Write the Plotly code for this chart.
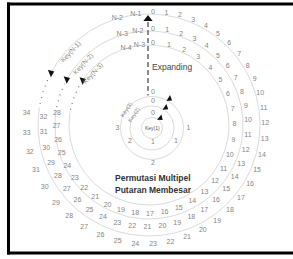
import numpy as np
import plotly.graph_objects as go

# ---------------- data ----------------
outer_labels = ["0", "1", "2", "3", "4", "5", "6", "7", "8", "9", "10", "11", "12",
                "13", "14", "15", "16", "17", "18", "19", "20", "21", "22", "23",
                "24", "25", "26", "27", "28", "29", "30", "31", "32", "33", "34"]
middle_labels = ["0", "1", "2", "3", "4", "5", "6", "7", "8", "9", "10", "11", "12",
                 "13", "14", "15", "16", "17", "18", "19", "20", "21", "22", "23",
                 "24", "25", "26", "27", "28", "29", "30", "31", "32"]
inner_labels = ["0", "1", "2", "3", "4", "5", "6", "7", "8", "9", "10", "11", "12",
                "13", "14", "15", "16", "17", "18", "19", "20", "21", "22", "23",
                "24", "25", "26", "27", "28"]
outer_tail = ["N-1", "N-2"]
middle_tail = ["N-2", "N-3"]
inner_tail = ["N-3", "N-4"]
big_keys = ["Key(N-1)", "Key(N-2)", "Key(N-3)"]
small_ring_labels = [["0", "1"], ["0", "1", "2"], ["0", "1", "2", "3"]]
small_keys = ["Key(1)", "Key(2)", "Key(3)"]
axis_text = "Expanding"
title_lines = ["Permutasi Multipel", "Putaran Membesar"]

# ---------------- layout / geometry constants ----------------
W, H = 293, 259
CX, CY = 149, 125            # pixel position of the spiral centre
SMALL_C = (3, -3)             # centre of the small circles relative to spiral centre
FONT = "Liberation Sans, Arial, sans-serif"
NUM_COLOR = "#858585"
LINE_COLOR = "#d0d0d0"

big_rings = [
    dict(labels=outer_labels, tail=outer_tail, key=big_keys[0], r0=113, grow=13,
         t0=2.0, a=6.85, b=0.035, arrow_t=298),
    dict(labels=middle_labels, tail=middle_tail, key=big_keys[1], r0=96, grow=13,
         t0=2.4, a=8.5, b=0.0, arrow_t=299),
    dict(labels=inner_labels, tail=inner_tail, key=big_keys[2], r0=82, grow=14,
         t0=2.8, a=11.29, b=-0.053, arrow_t=304),
]
BIG_ARROW_ANGLE = -22
small_line_r = [10.5, 22, 31.5]
small_label_r = [14.5, 26.5, 35.5]
small_arrow_t = [40, 34, 31]


def polar(r, theta_deg, c=(0, 0)):
    t = np.radians(theta_deg)
    return c[0] + np.asarray(r) * np.sin(t), c[1] + np.asarray(r) * np.cos(t)


fig = go.Figure()
annotations = []

# ---- big expanding rings ----
for ring in big_rings:
    labs = ring["labels"]
    k = np.arange(len(labs))
    th = ring["t0"] + ring["a"] * k + ring["b"] * k ** 2
    r = ring["r0"] + ring["grow"] * th / 360.0
    rl = ring["r0"] - 2

    # solid arc
    ts = np.linspace(ring["arrow_t"] - 360, 279, 400)
    x, y = polar(rl, ts)
    fig.add_trace(go.Scatter(x=x, y=y, mode="lines",
                             line=dict(color=LINE_COLOR, width=0.8), hoverinfo="skip"))
    # dotted ellipsis
    td = np.linspace(281, ring["arrow_t"] - 3, 30)
    x, y = polar(rl, td)
    fig.add_trace(go.Scatter(x=x, y=y, mode="lines",
                             line=dict(color="#777777", width=1.2, dash="1px,5px"),
                             hoverinfo="skip"))
    # arrow head
    x, y = polar(rl, [ring["arrow_t"]])
    fig.add_trace(go.Scatter(x=x, y=y, mode="markers",
                             marker=dict(symbol="triangle-right", size=7, color="#111111",
                                         angle=BIG_ARROW_ANGLE),
                             hoverinfo="skip"))
    # number labels
    x, y = polar(r, th)
    fig.add_trace(go.Scatter(x=x, y=y, mode="text", text=labs,
                             textfont=dict(size=7, color=NUM_COLOR, family=FONT),
                             hoverinfo="skip"))
    # N-x labels
    x, y = polar(ring["r0"] - 1.5, [-6.8, -16.5])
    fig.add_trace(go.Scatter(x=x, y=y, mode="text", text=ring["tail"],
                             textfont=dict(size=7, color=NUM_COLOR, family=FONT),
                             hoverinfo="skip"))
    # key label along arc
    kt = 313
    x, y = polar(rl - 4, kt)
    annotations.append(dict(x=float(x), y=float(y), xref="x", yref="y", text=ring["key"],
                            showarrow=False, textangle=kt - 360,
                            font=dict(size=6.5, color=NUM_COLOR, family=FONT)))

# ---- small circles in the middle ----
for i, labs in enumerate(small_ring_labels):
    tc = np.linspace(0, 360, 200)
    x, y = polar(small_line_r[i], tc, SMALL_C)
    fig.add_trace(go.Scatter(x=x, y=y, mode="lines",
                             line=dict(color=LINE_COLOR, width=0.8), hoverinfo="skip"))
    n = len(labs)
    th = np.arange(n) * 360.0 / n
    x, y = polar(small_label_r[i], th, SMALL_C)
    fig.add_trace(go.Scatter(x=x + 1, y=y, mode="text", text=labs,
                             textfont=dict(size=7, color=NUM_COLOR, family=FONT),
                             hoverinfo="skip"))
    x, y = polar(small_line_r[i] + 2.5, [small_arrow_t[i]], SMALL_C)
    fig.add_trace(go.Scatter(x=x, y=y, mode="markers",
                             marker=dict(symbol="triangle-right", size=6, color="#111111",
                                         angle=small_arrow_t[i]),
                             hoverinfo="skip"))
    if i == 0:
        annotations.append(dict(x=SMALL_C[0], y=SMALL_C[1], xref="x", yref="y",
                                text=small_keys[i], showarrow=False,
                                font=dict(size=5, color="#555555", family=FONT)))
    else:
        x, y = polar(small_line_r[i] + 0.5, 305, SMALL_C)
        annotations.append(dict(x=float(x), y=float(y), xref="x", yref="y",
                                text=small_keys[i], showarrow=False, textangle=-55,
                                font=dict(size=5.5, color=NUM_COLOR, family=FONT)))

# ---- vertical "Expanding" axis ----
AX_X = -1
top_r = big_rings[0]["r0"]
fig.add_trace(go.Scatter(x=[AX_X, AX_X], y=[top_r - 10, small_label_r[2] - 6], mode="lines",
                         line=dict(color="#444444", width=1.2, dash="5px,3px"),
                         hoverinfo="skip"))
fig.add_trace(go.Scatter(x=[AX_X], y=[top_r - 7], mode="markers",
                         marker=dict(symbol="triangle-up", size=8, color="#111111"),
                         hoverinfo="skip"))
annotations.append(dict(x=AX_X + 1.5, y=58, xref="x", yref="y", text=axis_text,
                        showarrow=False, xanchor="left",
                        font=dict(size=8.5, color="#444444", family=FONT)))

# ---- title ----
annotations.append(dict(x=4, y=-53, xref="x", yref="y", text="<b>" + title_lines[0] + "</b>",
                        showarrow=False, font=dict(size=8.5, color="#333333", family=FONT)))
annotations.append(dict(x=4, y=-65, xref="x", yref="y", text="<b>" + title_lines[1] + "</b>",
                        showarrow=False, font=dict(size=8.5, color="#333333", family=FONT)))

# ---- frame ----
shapes = [
    dict(type="line", xref="paper", yref="paper", x0=8.5 / W, x1=8.5 / W,
         y0=1 - 2.5 / H, y1=1 - 254.5 / H, line=dict(color="#000000", width=3)),
    dict(type="line", xref="paper", yref="paper", x0=7 / W, x1=1,
         y0=1 - 4 / H, y1=1 - 4 / H, line=dict(color="#000000", width=3)),
    dict(type="line", xref="paper", yref="paper", x0=7 / W, x1=1,
         y0=1 - 253 / H, y1=1 - 253 / H, line=dict(color="#000000", width=3)),
]

fig.update_layout(
    width=W, height=H, margin=dict(l=0, r=0, t=0, b=0),
    paper_bgcolor="white", plot_bgcolor="white", showlegend=False,
    xaxis=dict(range=[-CX, W - CX], visible=False, fixedrange=True),
    yaxis=dict(range=[CY - H, CY], visible=False, fixedrange=True),
    annotations=annotations, shapes=shapes,
)
fig.write_html("out.html", config={"displayModeBar": False},
               post_script="document.body.style.margin='0px';document.body.style.overflow='hidden';")
